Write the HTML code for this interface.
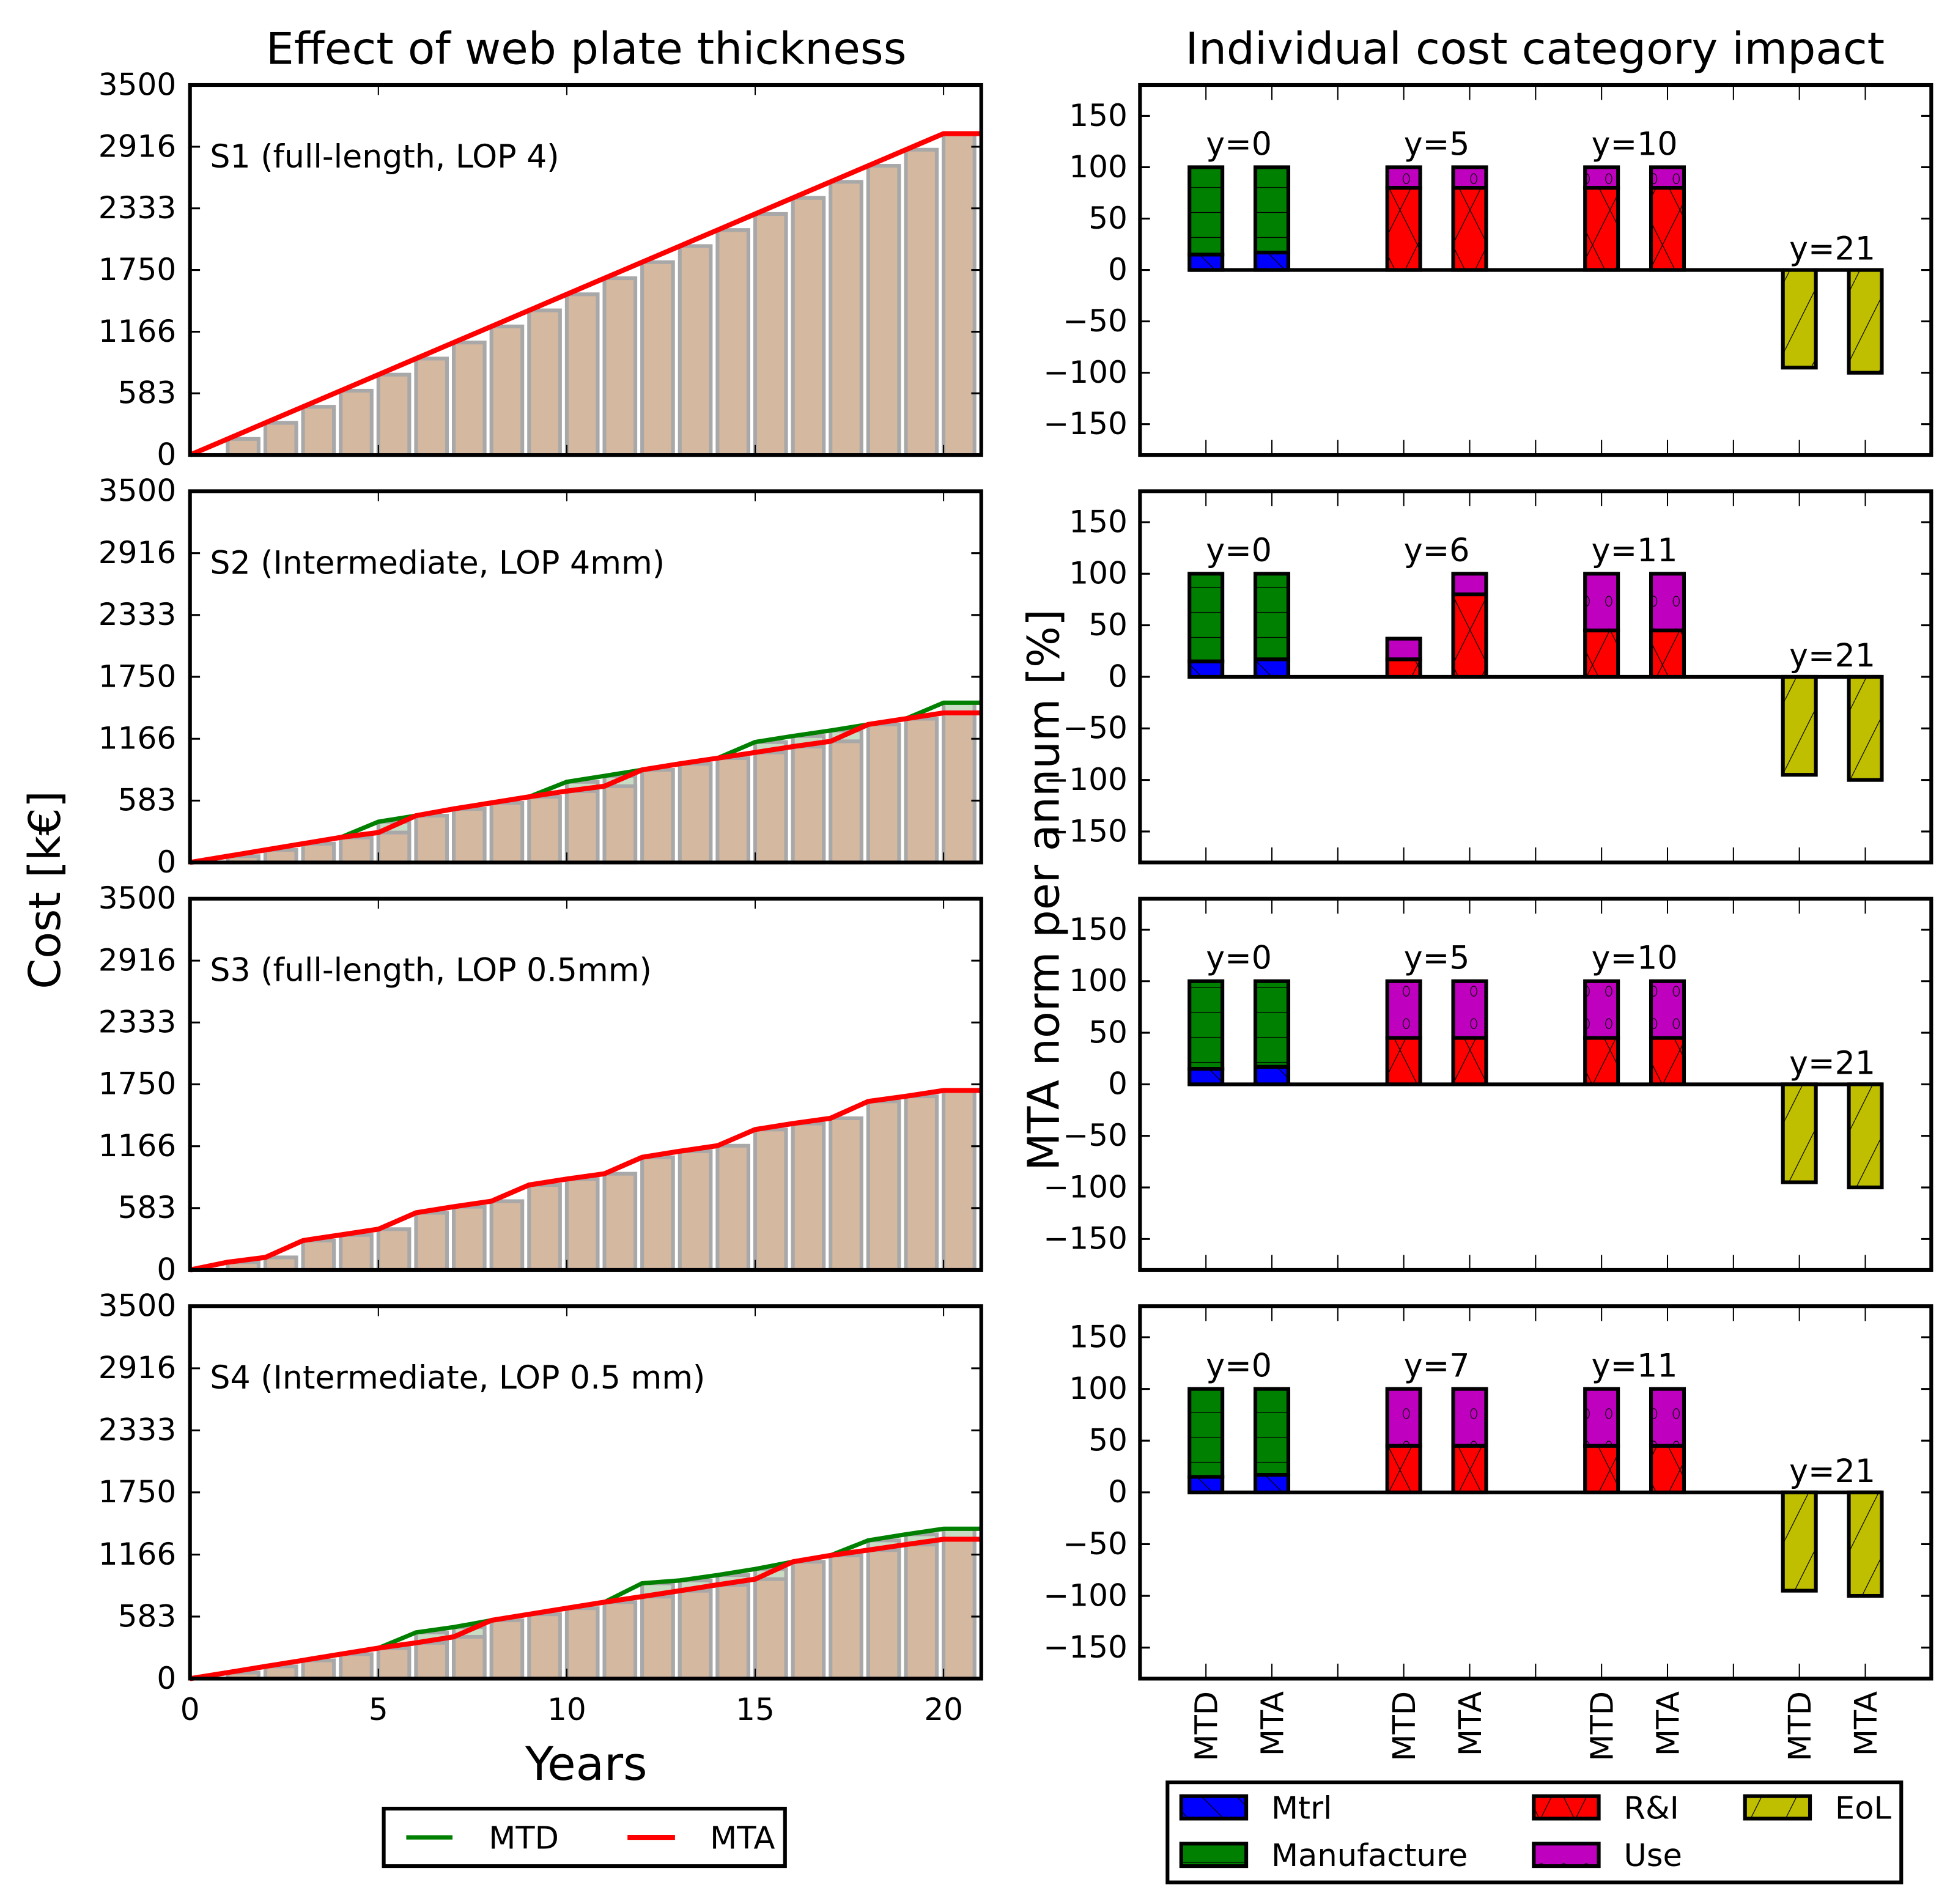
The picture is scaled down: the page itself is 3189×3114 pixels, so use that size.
<!DOCTYPE html>
<html><head><meta charset="utf-8">
<style>
html,body{margin:0;padding:0;background:#fff;}
svg{display:block;}
text{font-family:"DejaVu Sans","Liberation Sans",sans-serif;fill:#000;}
</style></head>
<body>
<svg id="fig" xmlns="http://www.w3.org/2000/svg" width="3189" height="3114" viewBox="0 0 1560 1523.3" preserveAspectRatio="none">
<defs>
<pattern id="h-mtrl" patternUnits="userSpaceOnUse" width="28" height="28"><path d="M0,0 L28,28" stroke="#000" stroke-width="0.6"/></pattern>
<pattern id="h-man" patternUnits="userSpaceOnUse" width="28" height="20"><path d="M0,10 L28,10" stroke="#000" stroke-width="0.6"/></pattern>
<pattern id="h-ri" patternUnits="userSpaceOnUse" width="28" height="56"><path d="M0,0 L28,56 M28,0 L0,56" stroke="#000" stroke-width="0.6"/></pattern>
<pattern id="h-use" patternUnits="userSpaceOnUse" width="18" height="26"><ellipse cx="9" cy="13" rx="2.5" ry="4" fill="none" stroke="#000" stroke-width="0.6"/></pattern>
<pattern id="h-eol" patternUnits="userSpaceOnUse" width="28" height="56"><path d="M0,56 L28,0" stroke="#000" stroke-width="0.6"/></pattern>
</defs>
<text x="469" y="51" font-size="35.5" text-anchor="middle">Effect of web plate thickness</text>
<text x="1228" y="51" font-size="35.5" text-anchor="middle">Individual cost category impact</text>
<text x="0" y="0" font-size="35" text-anchor="middle" transform="translate(48,712) rotate(-90)">Cost [k€]</text>
<text x="0" y="0" font-size="35" text-anchor="middle" transform="translate(847,712) rotate(-90)">MTA norm per annum [%]</text>
<text x="469" y="1424" font-size="37" text-anchor="middle">Years</text>
<g id="left"></g>
<g id="right"></g>
<g>
<rect x="307" y="1447" width="321" height="46" fill="#fff" stroke="#000" stroke-width="3"/>
<line x1="325" y1="1470" x2="362" y2="1470" stroke="#008000" stroke-width="3.5"/>
<text x="391" y="1479" font-size="25">MTD</text>
<line x1="502" y1="1470" x2="540" y2="1470" stroke="#ff0000" stroke-width="4"/>
<text x="568" y="1479" font-size="25">MTA</text>
</g>
<g id="rlegend">
<rect x="934" y="1426" width="587" height="80" fill="#fff" stroke="#000" stroke-width="3"/>
</g>
</svg>
<script>
const years = [0,1,2,3,4,5,6,7,8,9,10,11,12,13,14,15,16,17,18,19,20,21];
const s1MTA = [0,152,304,456,608,760,912,1064,1216,1368,1520,1672,1824,1976,2128,2280,2432,2584,2736,2888,3040,3040];
const s1MTD = [0,152,304,456,608,760,912,1064,1216,1368,1520,1672,1824,1976,2128,2280,2432,2584,2736,2888,3040,3040];
const s2MTA = [0,59,118,177,236,282,441,505,562,619,673,719,873,930,983,1037,1092,1142,1301,1355,1410,1410];
const s2MTD = [0,59,118,177,236,384,441,505,562,619,760,816,873,930,983,1135,1192,1244,1301,1355,1506,1506];
const s3MTA = [0,73,118,277,330,384,539,596,648,801,857,907,1062,1119,1171,1324,1380,1430,1589,1637,1692,1692];
const s3MTD = [0,73,118,277,330,384,539,596,648,801,857,907,1062,1119,1171,1324,1380,1430,1589,1637,1692,1692];
const s4MTA = [0,57,115,172,230,287,337,393,548,605,662,719,771,826,882,935,1098,1158,1208,1260,1310,1310];
const s4MTD = [0,57,115,172,230,287,434,484,548,605,662,719,896,923,973,1030,1098,1158,1299,1356,1408,1408];
const scenarioLabels = ["S1 (full-length, LOP 4)","S2 (Intermediate, LOP 4mm)","S3 (full-length, LOP 0.5mm)","S4 (Intermediate, LOP 0.5 mm)"];
const yTicksLeft = [0,583,1166,1750,2333,2916,3500];
const xTicksLeft = [0,5,10,15,20];

const categories = ["MTD","MTA","","MTD","MTA","","MTD","MTA","","MTD","MTA"];
const yearLabels = [["y=0","y=5","y=10","y=21"],["y=0","y=6","y=11","y=21"],["y=0","y=5","y=10","y=21"],["y=0","y=7","y=11","y=21"]];
const mtrl = [[15,17,0,0,0,0,0,0],[15,17,0,0,0,0,0,0],[15,17,0,0,0,0,0,0],[15,17,0,0,0,0,0,0]];
const manufacture = [[85,83,0,0,0,0,0,0],[85,83,0,0,0,0,0,0],[85,83,0,0,0,0,0,0],[85,83,0,0,0,0,0,0]];
const rni = [[0,0,80,80,80,80,0,0],[0,0,17,80,45,45,0,0],[0,0,45,45,45,45,0,0],[0,0,45,45,45,45,0,0]];
const use = [[0,0,20,20,20,20,0,0],[0,0,20,20,55,55,0,0],[0,0,55,55,55,55,0,0],[0,0,55,55,55,55,0,0]];
const eol = [[0,0,0,0,0,0,-95,-100],[0,0,0,0,0,0,-95,-100],[0,0,0,0,0,0,-95,-100],[0,0,0,0,0,0,-95,-100]];
const barPositions = [1,2,4,5,7,8,10,11];
const yTicksRight = [-150,-100,-50,0,50,100,150];

const NS = "http://www.w3.org/2000/svg";
function mk(tag, attrs, parent){const e=document.createElementNS(NS,tag);for(const k in attrs)e.setAttribute(k,attrs[k]);parent.appendChild(e);return e;}
const tops=[68,393,719,1045], bots=[364,690,1016,1343];
const L0=152,L1=785,R0=912,R1=1545;
const left=document.getElementById('left'), right=document.getElementById('right');
const mta=[s1MTA,s2MTA,s3MTA,s4MTA], mtd=[s1MTD,s2MTD,s3MTD,s4MTD];

for(let p=0;p<4;p++){
  const top=tops[p], bot=bots[p];
  const xs=v=>L0+(v/21)*(L1-L0);
  const ys=v=>bot-(v/3500)*(bot-top);
  const g=mk('g',{},left);
  
  
  for(let i=1;i<years.length-1;i++){
    const x=xs(years[i]), w=xs(0.82)-xs(0);
    if(mtd[p][i]>mta[p][i]){
      const b=mk('rect',{x:x,y:ys(mtd[p][i]),width:w,height:bot-ys(mtd[p][i]),fill:'#c9dcc4',stroke:'#a8a8a8','stroke-width':3},g);
      
      
    }
    const b2=mk('rect',{x:x,y:ys(mta[p][i]),width:w,height:bot-ys(mta[p][i]),fill:'#d5b8a0',stroke:'#a8a8a8','stroke-width':3},g);
    
    
  }
  const ptsD=years.map((y,i)=>xs(y)+','+ys(mtd[p][i])).join(' ');
  const ptsA=years.map((y,i)=>xs(y)+','+ys(mta[p][i])).join(' ');
  const ld=mk('polyline',{points:ptsD,fill:'none',stroke:'#008000','stroke-width':3.5},g);
  
  
  const la=mk('polyline',{points:ptsA,fill:'none',stroke:'#ff0000','stroke-width':4},g);
  
  
  mk('rect',{x:L0,y:top,width:L1-L0,height:bot-top,fill:'none',stroke:'#000','stroke-width':3},g);
  yTicksLeft.forEach(t=>{
    const y=ys(t);
    mk('line',{x1:L0,y1:y,x2:L0+8,y2:y,stroke:'#000','stroke-width':1.5},g);
    mk('line',{x1:L1,y1:y,x2:L1-8,y2:y,stroke:'#000','stroke-width':1.5},g);
    const tl=mk('text',{x:141,y:y+8,'font-size':24.5,'text-anchor':'end'},g);
    tl.textContent=t;
    
    
  });
  xTicksLeft.forEach(t=>{
    const x=xs(t);
    mk('line',{x1:x,y1:top,x2:x,y2:top+8,stroke:'#000','stroke-width':1},g);
    mk('line',{x1:x,y1:bot,x2:x,y2:bot-8,stroke:'#000','stroke-width':1},g);
    if(p===3){
      const tl=mk('text',{x:x,y:1376,'font-size':24.5,'text-anchor':'middle'},g);
      tl.textContent=t;
      
      
    }
  });
  const lab=mk('text',{x:168,y:top+66,'font-size':25.5},g);
  lab.textContent=scenarioLabels[p];
  
  
}

const series=[[mtrl,'#0000ff','h-mtrl','mtrl'],[manufacture,'#008000','h-man','manufacture'],[rni,'#ff0000','h-ri','ri'],[use,'#bf00bf','h-use','use'],[eol,'#bfbf00','h-eol','eol']];
for(let p=0;p<4;p++){
  const top=tops[p], bot=bots[p];
  const xs=v=>R0+(v/12)*(R1-R0);
  const ys=v=>bot-((v+180)/360)*(bot-top);
  const g=mk('g',{},right);
  
  
  mk('line',{x1:xs(0.75),y1:ys(0),x2:xs(11.25),y2:ys(0),stroke:'#000','stroke-width':3},g);
  barPositions.forEach((pos,j)=>{
    let base=0;
    series.forEach(([arr,col,pat,nm])=>{
      const v=arr[p][j];
      if(v===0)return;
      const y0=ys(base), y1=ys(base+v);
      const yy=Math.min(y0,y1), hh=Math.abs(y0-y1);
      const x=xs(pos-0.25), w=xs(0.5)-xs(0);
      const r=mk('rect',{x:x,y:yy,width:w,height:hh,fill:col,stroke:'#000','stroke-width':3},g);
      
      
      mk('rect',{x:x,y:yy,width:w,height:hh,fill:'url(#'+pat+')',stroke:'none'},g);
      if(v>0)base+=v;
    });
  });
  mk('rect',{x:R0,y:top,width:R1-R0,height:bot-top,fill:'none',stroke:'#000','stroke-width':3},g);
  yTicksRight.forEach(t=>{
    const y=ys(t);
    mk('line',{x1:R0,y1:y,x2:R0+8,y2:y,stroke:'#000','stroke-width':1.5},g);
    mk('line',{x1:R1,y1:y,x2:R1-8,y2:y,stroke:'#000','stroke-width':1.5},g);
    const tl=mk('text',{x:902,y:y+8,'font-size':24.5,'text-anchor':'end'},g);
    tl.textContent=(t<0?'\u2212'+Math.abs(t):t);
    
    
  });
  categories.forEach((c,i)=>{
    const x=xs(i+1);
    mk('line',{x1:x,y1:top,x2:x,y2:top+12,stroke:'#000','stroke-width':1},g);
    mk('line',{x1:x,y1:bot,x2:x,y2:bot-12,stroke:'#000','stroke-width':1},g);
    if(p===3&&c){
      const tl=mk('text',{x:0,y:0,'font-size':25,'text-anchor':'end',transform:'translate('+(x+9)+',1353) rotate(-90)'},g);
      tl.textContent=c;
      
      
    }
  });
  const labPos=[[1.5,112],[4.5,112],[7.5,112],[10.5,10]];
  yearLabels[p].forEach((t,k)=>{
    const tl=mk('text',{x:xs(labPos[k][0]),y:ys(labPos[k][1]),'font-size':25.5,'text-anchor':'middle'},g);
    tl.textContent=t;
    
    
  });
}

const rl=document.getElementById('rlegend');
const legItems=[['Mtrl','#0000ff','h-mtrl',945,1437],['Manufacture','#008000','h-man',945,1475],['R&I','#ff0000','h-ri',1227,1437],['Use','#bf00bf','h-use',1227,1475],['EoL','#bfbf00','h-eol',1396,1437]];
legItems.forEach(([n,c,pat,x,y])=>{
  mk('rect',{x:x,y:y,width:52,height:18,fill:c,stroke:'#000','stroke-width':3},rl);
  mk('rect',{x:x,y:y,width:52,height:18,fill:'url(#'+pat+')'},rl);
  const t=mk('text',{x:x+72,y:y+18,'font-size':25},rl);
  t.textContent=n;
  
  
});
</script>
</body></html>
